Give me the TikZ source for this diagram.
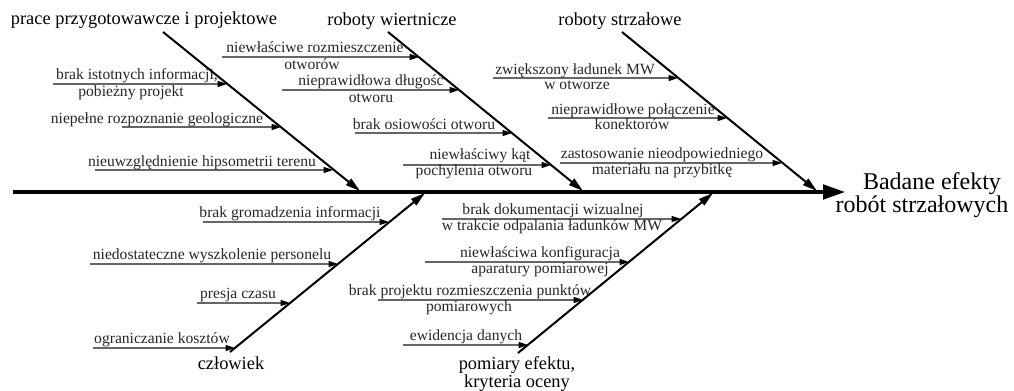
\documentclass[tikz,border=0pt]{standalone}
\usepackage{fontspec}
\setmainfont{Liberation Serif}
\usetikzlibrary{arrows.meta}
\begin{document}
\begin{tikzpicture}[x=0.75pt,y=-0.75pt,
  spine/.style={line width=2.3pt, -{Triangle[length=16.5pt,width=11pt]}},
  bone/.style={line width=1.5pt, -{Triangle[length=11pt,width=6pt]}},
  sub/.style={line width=0.8pt, draw=black!60, -{Triangle[length=7pt,width=4.5pt,color=black]}},
  lab/.style={font=\fontsize{11.7}{13}\selectfont, text=black!85, anchor=base, inner sep=0pt},
  head/.style={font=\fontsize{13.8}{16}\selectfont, anchor=base, inner sep=0pt},
  big/.style={font=\fontsize{18}{22}\selectfont, anchor=base, inner sep=0pt},
]
\useasboundingbox (0,0) rectangle (1014,391);

% spine
\coordinate (sp0) at (13,192);
\coordinate (sp1) at (845,192);
\draw[spine] (sp0) -- (sp1);
\node[big] (eff1) at (932,190) {Badane efekty};
\node[big] (eff2) at (922,213) {robót strzałowych};

% main bones
\coordinate (Ps) at (163,32);  \coordinate (Pe) at (360,191);
\coordinate (Ws) at (388,32);  \coordinate (We) at (583,191);
\coordinate (Ss) at (622,32);  \coordinate (Se) at (817,191);
\coordinate (Cs) at (230,352); \coordinate (Ce) at (425,193);
\coordinate (Ms) at (518,353); \coordinate (Me) at (713,193);
\draw[bone] (Ps) -- (Pe);
\draw[bone] (Ws) -- (We);
\draw[bone] (Ss) -- (Se);
\draw[bone] (Cs) -- (Ce);
\draw[bone] (Ms) -- (Me);

\node[head] (hP) at (144,25) {prace przygotowawcze i projektowe};
\node[head] (hW) at (392,26) {roboty wiertnicze};
\node[head] (hS) at (620,26) {roboty strzałowe};
\node[head] (hC) at (231,370) {człowiek};
\node[head] (hM1) at (517,370) {pomiary efektu,};
\node[head] (hM2) at (517,388) {kryteria oceny};

% --- prace przygotowawcze
\coordinate (a1s) at (53,84);  \coordinate (a1e) at (227,84);
\draw[sub] (a1s) -- (a1e);
\node[lab] (t1a) at (137,80) {brak istotnych informacji,};
\node[lab] (t1b) at (131,97) {pobieżny projekt};
\coordinate (a2s) at (122,127); \coordinate (a2e) at (281,127);
\draw[sub] (a2s) -- (a2e);
\node[lab] (t2) at (157,124) {niepełne rozpoznanie geologiczne};
\coordinate (a3s) at (95,170); \coordinate (a3e) at (333,170);
\draw[sub] (a3s) -- (a3e);
\node[lab] (t3) at (202,167) {nieuwzględnienie hipsometrii terenu};

% --- roboty wiertnicze
\coordinate (a4s) at (222,57); \coordinate (a4e) at (419,57);
\draw[sub] (a4s) -- (a4e);
\node[lab] (t4a) at (315,53) {niewłaściwe rozmieszczenie};
\node[lab] (t4b) at (312,70) {otworów};
\coordinate (a5s) at (282,90); \coordinate (a5e) at (459,90);
\draw[sub] (a5s) -- (a5e);
\node[lab] (t5a) at (371,86) {nieprawidłowa długość};
\node[lab] (t5b) at (371,103) {otworu};
\coordinate (a6s) at (355,133); \coordinate (a6e) at (512,133);
\draw[sub] (a6s) -- (a6e);
\node[lab] (t6) at (424,130) {brak osiowości otworu};
\coordinate (a7s) at (403,165); \coordinate (a7e) at (551,165);
\draw[sub] (a7s) -- (a7e);
\node[lab] (t7a) at (480,160) {niewłaściwy kąt};
\node[lab] (t7b) at (474,176) {pochylenia otworu};

% --- roboty strzalowe
\coordinate (a8s) at (493,78); \coordinate (a8e) at (678,78);
\draw[sub] (a8s) -- (a8e);
\node[lab] (t8a) at (575,75) {zwiększony ładunek MW};
\node[lab] (t8b) at (577,90) {w otworze};
\coordinate (a9s) at (548,118); \coordinate (a9e) at (727,118);
\draw[sub] (a9s) -- (a9e);
\node[lab] (t9a) at (633,115) {nieprawidłowe połączenie};
\node[lab] (t9b) at (632,130) {konektorów};
\coordinate (a10s) at (560,163); \coordinate (a10e) at (782,163);
\draw[sub] (a10s) -- (a10e);
\node[lab] (t10a) at (662,159) {zastosowanie nieodpowiedniego};
\node[lab] (t10b) at (662,175) {materiału na przybitkę};

% --- czlowiek
\coordinate (a11s) at (203,222); \coordinate (a11e) at (389,222);
\draw[sub] (a11s) -- (a11e);
\node[lab] (t11) at (290,218) {brak gromadzenia informacji};
\coordinate (a12s) at (90,264); \coordinate (a12e) at (338,264);
\draw[sub] (a12s) -- (a12e);
\node[lab] (t12) at (212,260) {niedostateczne wyszkolenie personelu};
\coordinate (a13s) at (197,303); \coordinate (a13e) at (290,303);
\draw[sub] (a13s) -- (a13e);
\node[lab] (t13) at (238,299) {presja czasu};
\coordinate (a14s) at (93,348); \coordinate (a14e) at (235,348);
\draw[sub] (a14s) -- (a14e);
\node[lab] (t14) at (162,344) {ograniczanie kosztów};

% --- pomiary
\coordinate (a15s) at (442,219); \coordinate (a15e) at (681,219);
\draw[sub] (a15s) -- (a15e);
\node[lab] (t15a) at (553,215) {brak dokumentacji wizualnej};
\node[lab] (t15b) at (552,231) {w trakcie odpalania ładunków MW};
\coordinate (a16s) at (425,262); \coordinate (a16e) at (629,262);
\draw[sub] (a16s) -- (a16e);
\node[lab] (t16a) at (540,258) {niewłaściwa konfiguracja};
\node[lab] (t16b) at (540,274) {aparatury pomiarowej};
\coordinate (a17s) at (378,300); \coordinate (a17e) at (583,300);
\draw[sub] (a17s) -- (a17e);
\node[lab] (t17a) at (470,296) {brak projektu rozmieszczenia punktów};
\node[lab] (t17b) at (469,312) {pomiarowych};
\coordinate (a18s) at (403,345); \coordinate (a18e) at (528,345);
\draw[sub] (a18s) -- (a18e);
\node[lab] (t18) at (466,341) {ewidencja danych};
\end{tikzpicture}
\end{document}
